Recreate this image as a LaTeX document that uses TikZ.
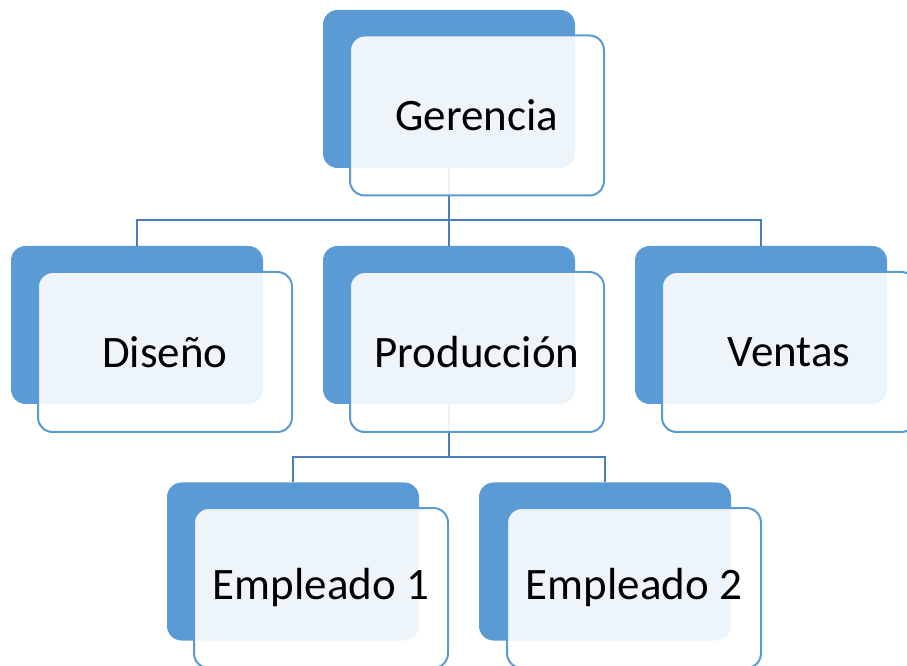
\documentclass[tikz,border=0pt]{standalone}
\usepackage{fontspec}
\setmainfont{Carlito}
\usepackage{tikz}

\definecolor{boxblue}{HTML}{5B9BD5}
\definecolor{linkblue}{HTML}{4A7EBB}

\begin{document}
\begin{tikzpicture}[x=0.75pt, y=-0.75pt,
    backbox/.style={fill=boxblue, rounded corners=11pt, minimum width=189pt, minimum height=118.5pt, inner sep=0pt},
    frontbox/.style={draw=boxblue, line width=1.5pt, fill=white, fill opacity=0.9, text opacity=1, rounded corners=11pt,
        minimum width=190.5pt, minimum height=120pt, inner sep=0pt, font=\fontsize{33.75}{40}\selectfont},
    link/.style={draw=linkblue, line width=1.5pt}]
    \useasboundingbox (0,0) rectangle (907,666);
    \clip (0,0) rectangle (907,666);
    % back boxes
    \node[backbox] (g) at (449,89) {};
    \node[backbox] (d) at (137,325) {};
    \node[backbox] (p) at (449,325) {};
    \node[backbox] (v) at (761,325) {};
    \node[backbox] (e1) at (293,561.5) {};
    \node[backbox] (e2) at (605,561.5) {};
    % connectors
    \coordinate (bus1) at (449,220);
    \coordinate (bus2) at (449,457);
    \draw[link] (g.south) -- (p.north);
    \draw[link] (d.north) |- (bus1);
    \draw[link] (v.north) |- (bus1);
    \draw[link] (p.south) -- (bus2);
    \draw[link] (e1.north) |- (bus2);
    \draw[link] (e2.north) |- (bus2);
    % front boxes
    \node[frontbox] (G) at (477,115.5) {Gerencia};
    \node[frontbox] (D) at (165,352) {Diseño};
    \node[frontbox] (P) at (477,352) {Producción};
    \node[frontbox] (V) at (789,352) {Ventas};
    \node[frontbox] (E1) at (321,588) {Empleado 1};
    \node[frontbox] (E2) at (634,588) {Empleado 2};
\end{tikzpicture}
\end{document}
